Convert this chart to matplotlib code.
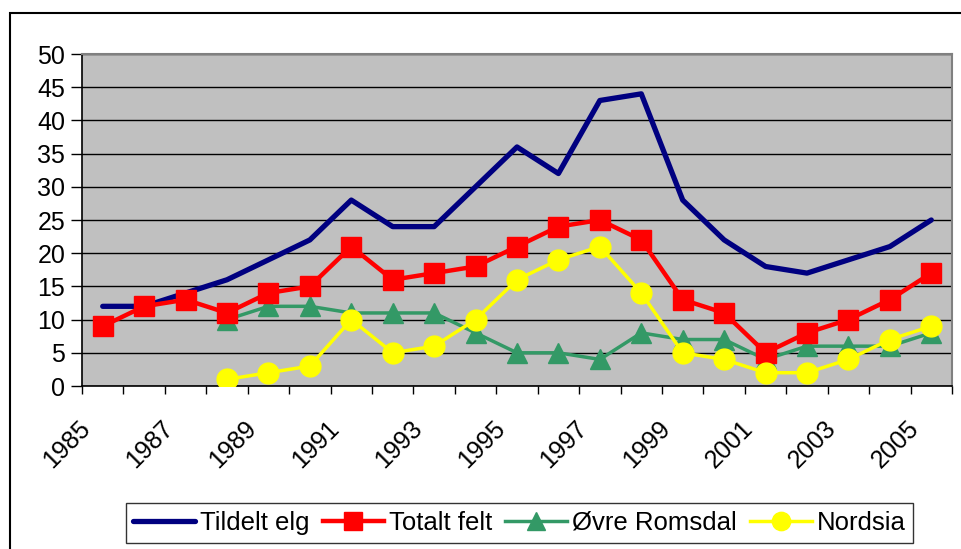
import numpy as np
import matplotlib
matplotlib.use("Agg")
import matplotlib.pyplot as plt
from matplotlib.patches import Rectangle
from matplotlib.transforms import ScaledTranslation

years = list(range(1985, 2006))
tildelt = [12, 12, 14, 16, 19, 22, 28, 24, 24, 30, 36, 32, 43, 44, 28, 22, 18, 17, 19, 21, 25]
totalt = [9, 12, 13, 11, 14, 15, 21, 16, 17, 18, 21, 24, 25, 22, 13, 11, 5, 8, 10, 13, 17]
ovre = [np.nan, np.nan, np.nan, 10, 12, 12, 11, 11, 11, 8, 5, 5, 4, 8, 7, 7, 4, 6, 6, 6, 8]
nordsia = [np.nan, np.nan, np.nan, 1, 2, 3, 10, 5, 6, 10, 16, 19, 21, 14, 5, 4, 2, 2, 4, 7, 9]
labels = ["Tildelt elg", "Totalt felt", "Øvre Romsdal", "Nordsia"]
yticks = list(range(0, 51, 5))

plt.rcParams['font.family'] = ['Liberation Sans', 'DejaVu Sans']

W, H = 962, 549
fig = plt.figure(figsize=(W / 100, H / 100), dpi=100)

# outer chart frame
fig.patches.append(Rectangle((10 / W, -0.1), 1.0, (H - 13) / H + 0.1,
                             transform=fig.transFigure, fill=False,
                             edgecolor='black', linewidth=1.5, zorder=0))

ax = fig.add_axes([82 / W, 1 - 386 / H, (952 - 82) / W, (386 - 54) / H])
ax.set_facecolor('#C0C0C0')
x = np.arange(len(years))

ax.plot(x, tildelt, color='#000080', lw=3.8, label=labels[0], zorder=3,
        solid_capstyle='round')
ax.plot(x, totalt, color='#FF0000', lw=3.2, marker='s', ms=14, label=labels[1], zorder=4)
ax.plot(x, ovre, color='#339966', lw=2.5, marker='^', ms=15, label=labels[2], zorder=3)
ax.plot(x, nordsia, color='#FFFF00', lw=2.5, marker='o', ms=15, label=labels[3], zorder=5)

ax.set_xlim(-0.5, len(years) - 0.5)
ax.set_ylim(0, 50)
ax.set_yticks(yticks)
ax.set_yticklabels([str(v) for v in yticks], fontsize=18)
ax.yaxis.grid(True, color='black', lw=1)
ax.set_axisbelow(True)
ax.tick_params(axis='y', direction='out', length=8, width=1, pad=4)

ax.set_xticks(x[::2])
ax.set_xticklabels([str(y) for y in years[::2]], fontsize=18, rotation=45,
                   ha='right', va='center', rotation_mode='anchor')
ax.set_xticks(np.arange(-0.5, len(years), 1), minor=True)
ax.tick_params(axis='x', which='major', length=0, pad=28)
ax.tick_params(axis='x', which='minor', direction='out', length=6, width=1)
off = ScaledTranslation(-16 / 100, 0, fig.dpi_scale_trans)
for lab in ax.get_xticklabels():
    lab.set_transform(lab.get_transform() + off)

for s in ['top', 'right']:
    ax.spines[s].set_color('#808080')
    ax.spines[s].set_linewidth(1.5)
for s in ['left', 'bottom']:
    ax.spines[s].set_color('black')
    ax.spines[s].set_linewidth(1.2)

leg = fig.legend(loc='center', bbox_to_anchor=(519.5 / W, 1 - 523 / H), ncol=4,
                 fontsize=18.5, frameon=True, fancybox=False, edgecolor='black',
                 handlelength=2.4, columnspacing=0.5, handletextpad=0.2,
                 borderpad=0.3, markerscale=0.88)
leg.get_frame().set_linewidth(1.0)

fig.savefig('out.png', dpi=100)
